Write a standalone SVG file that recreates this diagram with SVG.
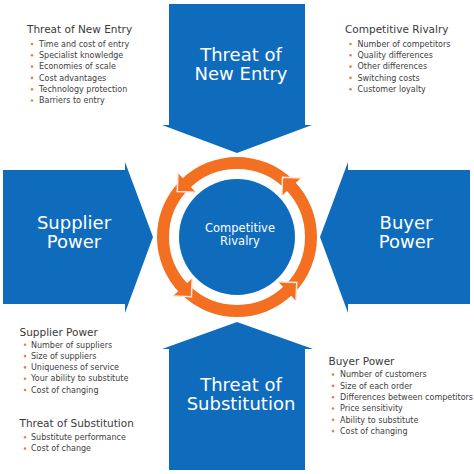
<svg xmlns="http://www.w3.org/2000/svg" width="474" height="474" viewBox="0 0 474 474">
<defs>
<style>
.arrow{fill:#0f6cbd}
.big{font-family:"DejaVu Sans",Verdana,sans-serif;font-size:18px;fill:#ffffff;text-anchor:middle}
.mid{font-family:"DejaVu Sans",Verdana,sans-serif;font-size:11.5px;fill:#ffffff;text-anchor:middle}
.hd{font-family:"DejaVu Sans",Verdana,sans-serif;font-size:10.5px;fill:#3a3a3a}
.it{font-family:"DejaVu Sans",Verdana,sans-serif;font-size:8px;fill:#404040}
.dot{fill:#e8804a}
.ring{fill:none;stroke:#f36f21;stroke-width:12}
.head{fill:#f36f21}
.edge{fill:none;stroke:#fde8d8;stroke-width:1.5}
</style>
</defs>
<rect width="474" height="474" fill="#ffffff"/>

<g id="threat-new-entry">
<polygon class="arrow" points="169,4 305,4 305,125 312,125 237,153 162,125 169,125"/>
<text class="big" x="241" y="61">Threat of</text>
<text class="big" x="241" y="80">New Entry</text>
</g>

<g id="supplier-power">
<polygon class="arrow" points="3,170 125,170 125,162 153,237 125,313 125,304 3,304"/>
<text class="big" x="74" y="229">Supplier</text>
<text class="big" x="74" y="248">Power</text>
</g>

<g id="buyer-power">
<polygon class="arrow" points="470,170 348,170 348,162 320,237 348,313 348,304 470,304"/>
<text class="big" x="406" y="229">Buyer</text>
<text class="big" x="406" y="248">Power</text>
</g>

<g id="threat-substitution">
<polygon class="arrow" points="169,470 305,470 305,349 313,349 237,322 162,349 169,349"/>
<text class="big" x="241" y="391">Threat of</text>
<text class="big" x="241" y="410">Substitution</text>
</g>

<g id="competitive-rivalry">
<circle cx="237" cy="237" r="58" fill="#0f6cbd"/>
<text class="mid" x="240" y="231.5">Competitive</text>
<text class="mid" x="240" y="244.8">Rivalry</text>
</g>

<g id="connectors">
<circle class="ring" cx="237" cy="237" r="74"/>
<polygon class="head" points="177.99,173.07 177.26,191.44 195.63,192.17 186.81,182.62"/>
<path class="edge" d="M177.99,173.07 L177.26,191.44 L195.63,192.17"/>
<polygon class="head" points="300.93,177.99 282.56,177.26 281.83,195.63 291.4,186.8"/>
<path class="edge" d="M300.93,177.99 L282.56,177.26 L281.83,195.63"/>
<polygon class="head" points="296.01,300.93 296.74,282.56 278.37,281.83 287.2,291.4"/>
<path class="edge" d="M296.01,300.93 L296.74,282.56 L278.37,281.83"/>
<polygon class="head" points="173.07,296.01 191.44,296.74 192.17,278.37 182.6,287.2"/>
<path class="edge" d="M173.07,296.01 L191.44,296.74 L192.17,278.37"/>
</g>

<g id="list-new-entry">
<text class="hd" x="27" y="33">Threat of New Entry</text>
<circle class="dot" cx="32" cy="44" r="1.3"/><text class="it" x="39" y="46.7">Time and cost of entry</text>
<circle class="dot" cx="32" cy="55.3" r="1.3"/><text class="it" x="39" y="58">Specialist knowledge</text>
<circle class="dot" cx="32" cy="66.6" r="1.3"/><text class="it" x="39" y="69.3">Economies of scale</text>
<circle class="dot" cx="32" cy="77.9" r="1.3"/><text class="it" x="39" y="80.6">Cost advantages</text>
<circle class="dot" cx="32" cy="89.2" r="1.3"/><text class="it" x="39" y="91.9">Technology protection</text>
<circle class="dot" cx="32" cy="100.5" r="1.3"/><text class="it" x="39" y="103.2">Barriers to entry</text>
</g>

<g id="list-rivalry">
<text class="hd" x="345" y="33">Competitive Rivalry</text>
<circle class="dot" cx="350.5" cy="44" r="1.3"/><text class="it" x="357.5" y="46.7">Number of competitors</text>
<circle class="dot" cx="350.5" cy="55.3" r="1.3"/><text class="it" x="357.5" y="58">Quality differences</text>
<circle class="dot" cx="350.5" cy="66.6" r="1.3"/><text class="it" x="357.5" y="69.3">Other differences</text>
<circle class="dot" cx="350.5" cy="77.9" r="1.3"/><text class="it" x="357.5" y="80.6">Switching costs</text>
<circle class="dot" cx="350.5" cy="89.2" r="1.3"/><text class="it" x="357.5" y="91.9">Customer loyalty</text>
</g>

<g id="list-supplier">
<text class="hd" x="19.5" y="336">Supplier Power</text>
<circle class="dot" cx="25" cy="344.8" r="1.3"/><text class="it" x="31" y="347.5">Number of suppliers</text>
<circle class="dot" cx="25" cy="356.1" r="1.3"/><text class="it" x="31" y="358.8">Size of suppliers</text>
<circle class="dot" cx="25" cy="367.4" r="1.3"/><text class="it" x="31" y="370.1">Uniqueness of service</text>
<circle class="dot" cx="25" cy="378.7" r="1.3"/><text class="it" x="31" y="381.4">Your ability to substitute</text>
<circle class="dot" cx="25" cy="390" r="1.3"/><text class="it" x="31" y="392.7">Cost of changing</text>
</g>

<g id="list-substitution">
<text class="hd" x="19.5" y="426.5">Threat of Substitution</text>
<circle class="dot" cx="25" cy="437.3" r="1.3"/><text class="it" x="31" y="440">Substitute performance</text>
<circle class="dot" cx="25" cy="448.6" r="1.3"/><text class="it" x="31" y="451.3">Cost of change</text>
</g>

<g id="list-buyer">
<text class="hd" x="328.5" y="365">Buyer Power</text>
<circle class="dot" cx="333" cy="374.6" r="1.3"/><text class="it" x="340" y="377.3">Number of customers</text>
<circle class="dot" cx="333" cy="385.9" r="1.3"/><text class="it" x="340" y="388.6">Size of each order</text>
<circle class="dot" cx="333" cy="397.2" r="1.3"/><text class="it" x="340" y="399.9">Differences between competitors</text>
<circle class="dot" cx="333" cy="408.5" r="1.3"/><text class="it" x="340" y="411.2">Price sensitivity</text>
<circle class="dot" cx="333" cy="419.8" r="1.3"/><text class="it" x="340" y="422.5">Ability to substitute</text>
<circle class="dot" cx="333" cy="431.1" r="1.3"/><text class="it" x="340" y="433.8">Cost of changing</text>
</g>
</svg>
